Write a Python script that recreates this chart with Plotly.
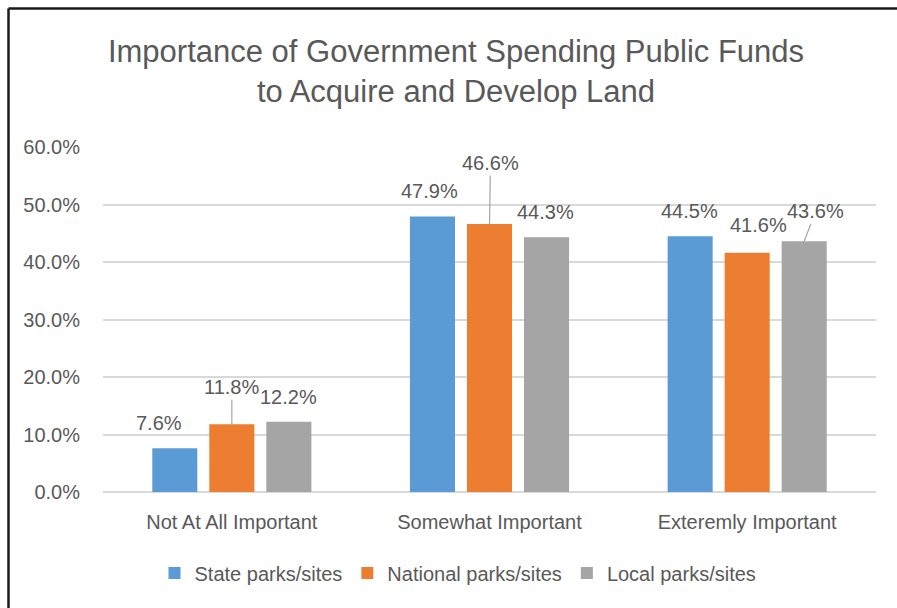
import plotly.graph_objects as go

# Survey results: share of respondents per importance rating
categories = ["Not At All Important", "Somewhat Important", "Exteremly Important"]
series_names = ["State parks/sites", "National parks/sites", "Local parks/sites"]
state_vals = [7.6, 47.9, 44.5]
national_vals = [11.8, 46.6, 41.6]
local_vals = [12.2, 44.3, 43.6]
colors = ["#5B9BD5", "#ED7D31", "#A5A5A5"]
y_tick_vals = [0, 10, 20, 30, 40, 50, 60]
y_tick_text = ["0.0%", "10.0%", "20.0%", "30.0%", "40.0%", "50.0%", "60.0%"]

series_vals = [state_vals, national_vals, local_vals]

TEXT = "#595959"
FONT = "Liberation Sans Narrow, Arial Narrow, Liberation Sans, Arial, sans-serif"
FS = 20

# Plot-area geometry (pixels)
W, H = 897, 608
ML, MR, MT, MB = 103, 21, 147, 116
PW, PH = W - ML - MR, H - MT - MB

BARGAP = 0.336
slot = (1 - BARGAP) / len(series_names)

fig = go.Figure()
for name, vals, col in zip(series_names, series_vals, colors):
    fig.add_trace(go.Bar(
        x=categories, y=vals, name=name,
        marker=dict(color=col, line=dict(width=0)),
        hoverinfo="skip",
    ))

# Data labels: (x-shift px, y-shift px above bar top, leader line?)
label_pos = [
    [(-15.5, 25, False), (-2.5, 25.5, False), (-1, 25, False)],
    [(0, 37, True), (1, 61, True), (11.5, 27.5, False)],
    [(0, 25, False), (-1, 25.5, False), (11.5, 30, True)],
]

annotations = []
for si, vals in enumerate(series_vals):
    offset = (si - 1) * slot
    for ci, v in enumerate(vals):
        dx, dy, leader = label_pos[si][ci]
        common = dict(
            x=ci + offset, y=v, xref="x", yref="y",
            text=f"{v:.1f}%", font=dict(family=FONT, size=FS, color=TEXT),
        )
        if leader:
            annotations.append(dict(
                **common, showarrow=True, arrowhead=0, arrowwidth=1.2,
                arrowcolor="#a6a6a6", ax=dx, ay=-dy, xanchor="center",
                yanchor="middle",
            ))
        else:
            annotations.append(dict(
                **common, showarrow=False, xshift=dx, yshift=dy,
                xanchor="center", yanchor="middle",
            ))


def px_x(px):
    return (px - ML) / PW


def px_y(py):
    return (H - MB - py) / PH


# Outer frame (top and left edges)
shapes = [
    dict(type="line", xref="paper", yref="paper",
         x0=px_x(8.5), x1=px_x(W), y0=px_y(8.5), y1=px_y(8.5),
         line=dict(color="#1a1a1a", width=2.5)),
    dict(type="line", xref="paper", yref="paper",
         x0=px_x(8.5), x1=px_x(8.5), y0=px_y(8.5), y1=px_y(H),
         line=dict(color="#1a1a1a", width=2.5)),
]

fig.update_layout(
    width=W, height=H,
    margin=dict(l=ML, r=MR, t=MT, b=MB),
    paper_bgcolor="white", plot_bgcolor="white",
    barmode="group", bargap=BARGAP, bargroupgap=0.21,
    title=dict(
        text="Importance of Government Spending Public Funds<br>to Acquire and Develop Land",
        font=dict(family=FONT, size=31, color=TEXT),
        x=456 / W, xanchor="center", xref="container",
        y=1 - 62 / H, yanchor="middle", yref="container",
    ),
    xaxis=dict(
        type="category", showgrid=False, showline=False, zeroline=False,
        ticks="outside", ticklen=12, tickcolor="rgba(0,0,0,0)",
        tickfont=dict(family=FONT, size=FS, color=TEXT),
    ),
    yaxis=dict(
        range=[0, 60], tickvals=y_tick_vals, ticktext=y_tick_text,
        showgrid=True, gridcolor="#d9d9d9", gridwidth=1.5,
        zeroline=True, zerolinecolor="#d9d9d9", zerolinewidth=1.5,
        showline=False,
        ticks="outside", ticklen=18, tickcolor="rgba(0,0,0,0)",
        tickfont=dict(family=FONT, size=FS, color=TEXT),
    ),
    legend=dict(
        orientation="h", x=px_x(458), xanchor="center",
        y=px_y(573), yanchor="middle",
        font=dict(family=FONT, size=FS, color=TEXT),
        itemwidth=30, traceorder="normal",
    ),
    annotations=annotations,
    shapes=shapes,
    showlegend=True,
)

fig.write_html("out.html")
